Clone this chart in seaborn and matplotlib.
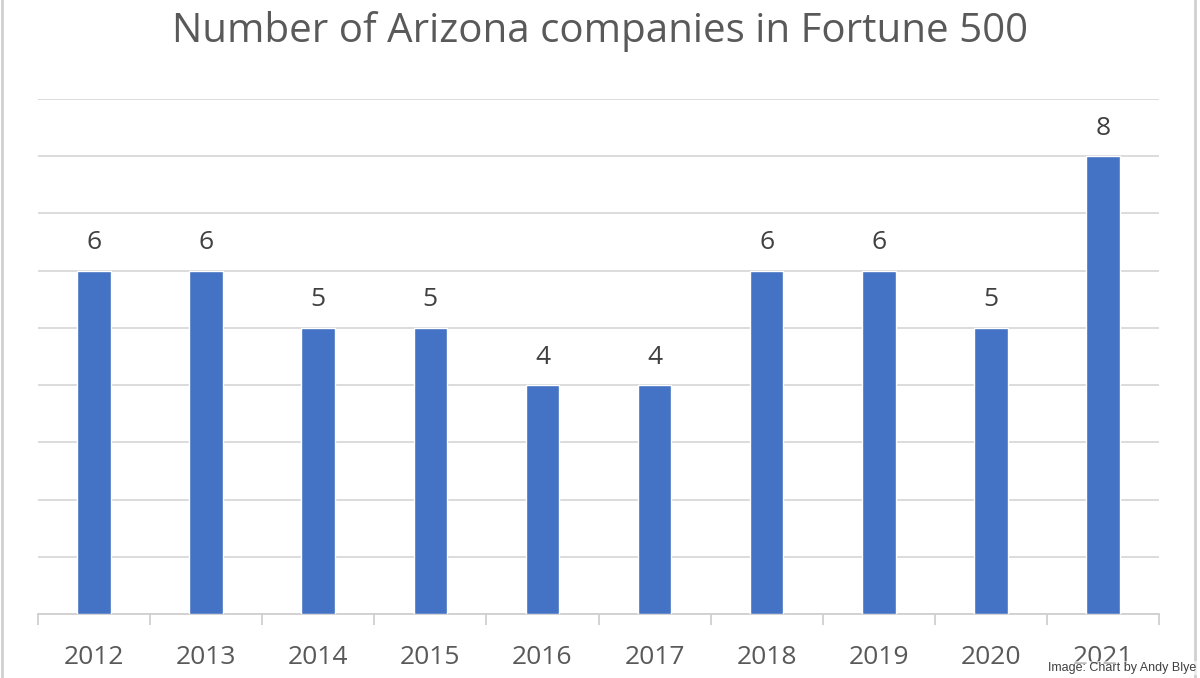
import seaborn as sns
import matplotlib.pyplot as plt
import matplotlib.lines as mlines
import pandas as pd

# Dados
anos = ['2012', '2013', '2014', '2015', '2016', '2017', '2018', '2019', '2020', '2021']
empresas = [6, 6, 5, 5, 4, 4, 6, 6, 5, 8]
titulo = 'Number of Arizona companies in Fortune 500'
credito = 'Image: Chart by Andy Blye'

df = pd.DataFrame({'ano': anos, 'empresas': empresas})

sns.set_style('white')
plt.rcParams['font.family'] = ['Open Sans', 'DejaVu Sans']

fig = plt.figure(figsize=(12, 6.78), dpi=100)
ax = fig.add_axes([38 / 1200, 1 - 614 / 678, (1159 - 38) / 1200, (614 - 99) / 678])

sns.barplot(data=df, x='ano', y='empresas', color='#4472C4', width=0.3,
            saturation=1, ax=ax, zorder=3)

cinza = '#595959'
ax.set_ylim(0, 9)
ax.set_xlim(-0.5, len(anos) - 0.5)
ax.set_yticks(range(0, 10))
ax.set_yticklabels([])
ax.tick_params(axis='y', length=0)
ax.yaxis.grid(True, color='#d9d9d9', linewidth=1.3, zorder=0)
ax.xaxis.grid(False)

# marcas entre as categorias
ax.set_xticks([i - 0.5 for i in range(len(anos) + 1)], minor=True)
ax.tick_params(axis='x', which='minor', bottom=True, direction='out', length=8,
               width=1.3, color='#d0d0d0')
ax.tick_params(axis='x', which='major', length=0, labelsize=19, labelcolor=cinza, pad=22)

for s in ['top', 'right', 'left']:
    ax.spines[s].set_visible(False)
ax.spines['bottom'].set_color('#d0d0d0')
ax.spines['bottom'].set_linewidth(1.3)

ax.set_xlabel('')
ax.set_ylabel('')

# rotulos das barras
for i, v in enumerate(empresas):
    ax.text(i, v + 0.27, str(v), ha='center', va='bottom', fontsize=19, color='#404040')

fig.text(0.5, 1 - 32 / 678, titulo, ha='center', va='center', fontsize=29, color=cinza)
# credito por cima do rotulo 2021, como na imagem original
fig.text(1196 / 1200, 1 - 668 / 678, credito, ha='right', va='center', fontsize=9,
         color='#404040', family=['Liberation Sans', 'DejaVu Sans'], zorder=10,
         bbox=dict(facecolor='white', edgecolor='none', pad=0.5, alpha=0.6))

# moldura
fig.add_artist(mlines.Line2D([2 / 1200, 2 / 1200], [0, 1], color='#d0d0d0', lw=2))
fig.add_artist(mlines.Line2D([1195 / 1200, 1195 / 1200], [0, 1], color='#d0d0d0', lw=2))

fig.savefig('out.png', dpi=100)
